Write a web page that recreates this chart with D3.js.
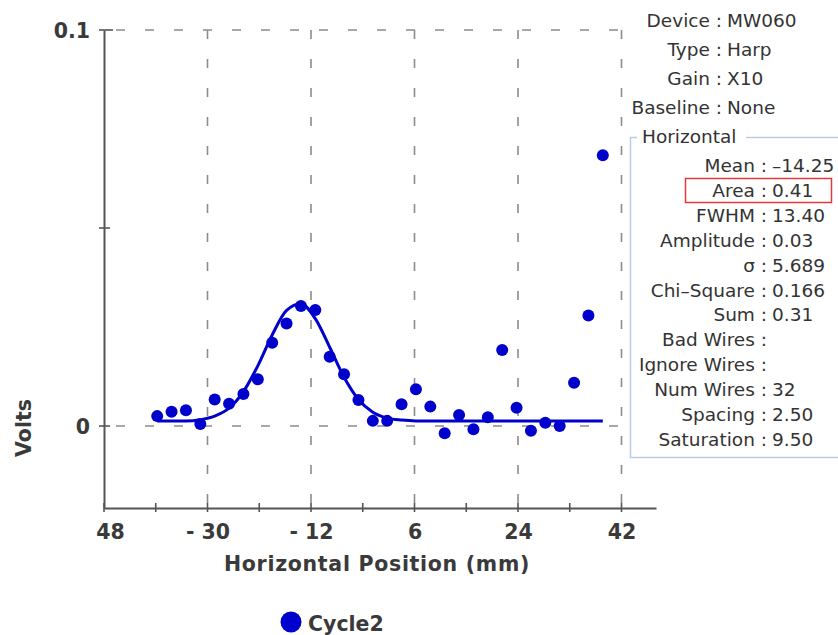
<!DOCTYPE html>
<html>
<head>
<meta charset="utf-8">
<script src="https://cdn.jsdelivr.net/npm/d3@7"></script>
<style>
    body { margin: 0; background: #fff; }
    #chart-area { width: 838px; height: 635px; }
    .tick-label { font-family: "DejaVu Sans", sans-serif; font-weight: bold; font-size: 20.5px; fill: #3a3a3a; }
    .info { font-family: "DejaVu Sans", sans-serif; font-size: 18.5px; fill: #333; }
</style>
</head>
<body>
<div id="chart-area"></div>
<script>

let positions = [-38.75, -36.25, -33.75, -31.25, -28.75, -26.25, -23.75, -21.25,
    -18.75, -16.25, -13.75, -11.25, -8.75, -6.25, -3.75, -1.25,
    1.25, 3.75, 6.25, 8.75, 11.25, 13.75, 16.25, 18.75,
    21.25, 23.75, 26.25, 28.75, 31.25, 33.75, 36.25, 38.75];
let volts = [0.0025, 0.0036, 0.0040, 0.0005, 0.0067, 0.0056, 0.0081, 0.0118,
    0.0210, 0.0259, 0.0303, 0.0293, 0.0175, 0.0131, 0.0066, 0.0013,
    0.0013, 0.0055, 0.0093, 0.0049, -0.0018, 0.0028, -0.0008, 0.0022,
    0.0192, 0.0046, -0.0012, 0.0008, 0.0000, 0.0109, 0.0279, 0.0684];

// gaussian fit line as drawn
let fitVolts = [0.0013, 0.0013, 0.0013, 0.0016, 0.0025, 0.0045, 0.0087, 0.0152,
    0.0230, 0.0292, 0.0309, 0.0271, 0.0199, 0.0123, 0.0067, 0.0035,
    0.0020, 0.0015, 0.0013, 0.0013, 0.0013, 0.0013, 0.0013, 0.0013,
    0.0013, 0.0013, 0.0013, 0.0013, 0.0013, 0.0013, 0.0013, 0.0013];

let xMajorTicks = [-48, -30, -12, 6, 24, 42];
let xTickLabels = ["48", "- 30", "- 12", "6", "24", "42"];
let xMinorTicks = [-39, -21, -3, 15, 33];
let yMajorTicks = [0, 0.1];
let yTickLabels = ["0", "0.1"];
let yMinorTicks = [0.05];

let headerLabels = ["Device", "Type", "Gain", "Baseline"];
let headerValues = ["MW060", "Harp", "X10", "None"];
let statLabels = ["Mean", "Area", "FWHM", "Amplitude", "σ", "Chi–Square", "Sum",
    "Bad Wires", "Ignore Wires", "Num Wires", "Spacing", "Saturation"];
let statValues = ["–14.25", "0.41", "13.40", "0.03", "5.689", "0.166", "0.31",
    "", "", "32", "2.50", "9.50"];

let seriesName = "Cycle2";

class WireScanVis {

    constructor(parentElement) {
        this.parentElement = parentElement;
        this.initVis();
    }

    initVis() {
        let vis = this;

        vis.width = 838;
        vis.height = 635;
        vis.blue = "#0000cc";

        vis.svg = d3.select("#" + vis.parentElement).append("svg")
            .attr("width", vis.width)
            .attr("height", vis.height);

        vis.x = d3.scaleLinear().domain([-48, 48]).range([104, 656]);
        vis.y = d3.scaleLinear().domain([-0.0207, 0.1]).range([508, 30]);

        // dashed grid
        vis.svg.append("g").selectAll("line.vgrid")
            .data(xMajorTicks.slice(1))
            .enter().append("line")
            .attr("x1", d => vis.x(d)).attr("x2", d => vis.x(d))
            .attr("y1", vis.y(0.1)).attr("y2", vis.y.range()[0])
            .attr("stroke", "#8c8c8c").attr("stroke-width", 1.6)
            .attr("stroke-dasharray", "9,20");

        vis.svg.append("g").selectAll("line.hgrid")
            .data(yMajorTicks)
            .enter().append("line")
            .attr("x1", vis.x.range()[0]).attr("x2", vis.x.range()[1])
            .attr("y1", d => vis.y(d)).attr("y2", d => vis.y(d))
            .attr("stroke", "#8c8c8c").attr("stroke-width", 1.6)
            .attr("stroke-dasharray", "9,20")
            .attr("stroke-dashoffset", -12);

        // axes
        vis.xAxis = d3.axisBottom(vis.x)
            .tickValues(xMajorTicks)
            .tickSize(0)
            .tickFormat((d, i) => xTickLabels[i]);
        vis.yAxis = d3.axisLeft(vis.y)
            .tickValues(yMajorTicks)
            .tickSize(0)
            .tickPadding(14)
            .tickFormat((d, i) => yTickLabels[i]);

        let gx = vis.svg.append("g")
            .attr("transform", `translate(0, ${vis.y.range()[0]})`)
            .call(vis.xAxis);
        let gy = vis.svg.append("g")
            .attr("transform", `translate(${vis.x.range()[0]}, 0)`)
            .call(vis.yAxis);

        [gx, gy].forEach(g => {
            g.select(".domain").attr("stroke", "#555").attr("stroke-width", 2);
            g.selectAll("text").attr("class", "tick-label").attr("font-size", null).attr("font-family", null).attr("fill", null);
        });
        gx.selectAll(".tick text").attr("y", 31).attr("dy", 0)
            .attr("dx", d => d === -48 ? 6 : 0);
        gy.selectAll(".tick text").attr("dy", "0.36em");

        // tick marks crossing the axis lines
        vis.svg.append("g").selectAll("line")
            .data(xMajorTicks.concat(xMinorTicks))
            .enter().append("line")
            .attr("x1", d => vis.x(d)).attr("x2", d => vis.x(d))
            .attr("y1", vis.y.range()[0] - 5).attr("y2", vis.y.range()[0] + 4)
            .attr("stroke", "#555").attr("stroke-width", 1.6);
        vis.svg.append("g").selectAll("line")
            .data(yMajorTicks.concat(yMinorTicks))
            .enter().append("line")
            .attr("x1", vis.x.range()[0] - 5).attr("x2", d => vis.x.range()[0] + (d === 0.1 ? 9 : 6))
            .attr("y1", d => vis.y(d)).attr("y2", d => vis.y(d))
            .attr("stroke", "#555").attr("stroke-width", 1.6);

        // axis titles
        vis.svg.append("text")
            .attr("class", "tick-label")
            .attr("x", 377).attr("y", 571)
            .attr("text-anchor", "middle")
            .attr("font-size", 21)
            .attr("letter-spacing", "0.7")
            .text("Horizontal Position (mm)");
        vis.svg.append("text")
            .attr("class", "tick-label")
            .attr("transform", "translate(31, 428) rotate(-90)")
            .attr("text-anchor", "middle")
            .attr("font-size", 21)
            .text("Volts");

        vis.wrangleData();
    }

    wrangleData() {
        let vis = this;
        vis.points = positions.map((p, i) => ({pos: p, v: volts[i], fit: fitVolts[i]}));
        vis.updateVis();
    }

    updateVis() {
        let vis = this;

        let line = d3.line()
            .x(d => vis.x(d.pos))
            .y(d => vis.y(d.fit))
            .curve(d3.curveMonotoneX);

        vis.svg.append("path")
            .datum(vis.points)
            .attr("d", line)
            .attr("fill", "none")
            .attr("stroke", vis.blue)
            .attr("stroke-width", 3);

        vis.svg.append("g").selectAll("circle")
            .data(vis.points)
            .enter().append("circle")
            .attr("cx", d => vis.x(d.pos))
            .attr("cy", d => vis.y(d.v))
            .attr("r", 6)
            .attr("fill", vis.blue);

        // info panel sits on top of the plot's right edge
        let info = vis.svg.append("g");
        info.append("rect")
            .attr("x", 624).attr("y", 0)
            .attr("width", 214).attr("height", 462)
            .attr("fill", "#fff");

        let headColon = 718;
        headerLabels.forEach((lab, i) => {
            let yy = 27 + i * 29;
            info.append("text").attr("class", "info")
                .attr("x", headColon + 4).attr("y", yy)
                .attr("text-anchor", "end")
                .text(lab + " :");
            info.append("text").attr("class", "info")
                .attr("x", headColon + 9).attr("y", yy)
                .text(headerValues[i]);
        });

        info.append("rect")
            .attr("x", 630.5).attr("y", 137.5)
            .attr("width", 230).attr("height", 320)
            .attr("fill", "none")
            .attr("stroke", "#b8cde4").attr("stroke-width", 1.5);
        info.append("rect")
            .attr("x", 637).attr("y", 128)
            .attr("width", 109).attr("height", 16)
            .attr("fill", "#fff");
        info.append("text").attr("class", "info")
            .attr("x", 642).attr("y", 143)
            .attr("font-size", 19.5)
            .text("Horizontal");

        let statColon = 763;
        statLabels.forEach((lab, i) => {
            let yy = 172 + i * 24.9;
            info.append("text").attr("class", "info")
                .attr("x", statColon + 4).attr("y", yy)
                .attr("text-anchor", "end")
                .text(lab + " :");
            info.append("text").attr("class", "info")
                .attr("x", statColon + 9).attr("y", yy)
                .text(statValues[i]);
        });

        // highlight box around Area
        info.append("rect")
            .attr("x", 685.5).attr("y", 178.5)
            .attr("width", 146).attr("height", 24)
            .attr("fill", "none")
            .attr("stroke", "#e03a3a").attr("stroke-width", 1.5);

        // legend
        let legend = vis.svg.append("g").attr("transform", "translate(291, 622)");
        legend.append("circle").attr("r", 10.5).attr("fill", vis.blue);
        legend.append("text")
            .attr("class", "tick-label")
            .attr("x", 17).attr("y", 8.5)
            .attr("font-size", 24)
            .text(seriesName);
    }
}

new WireScanVis("chart-area");
</script>
</body>
</html>
